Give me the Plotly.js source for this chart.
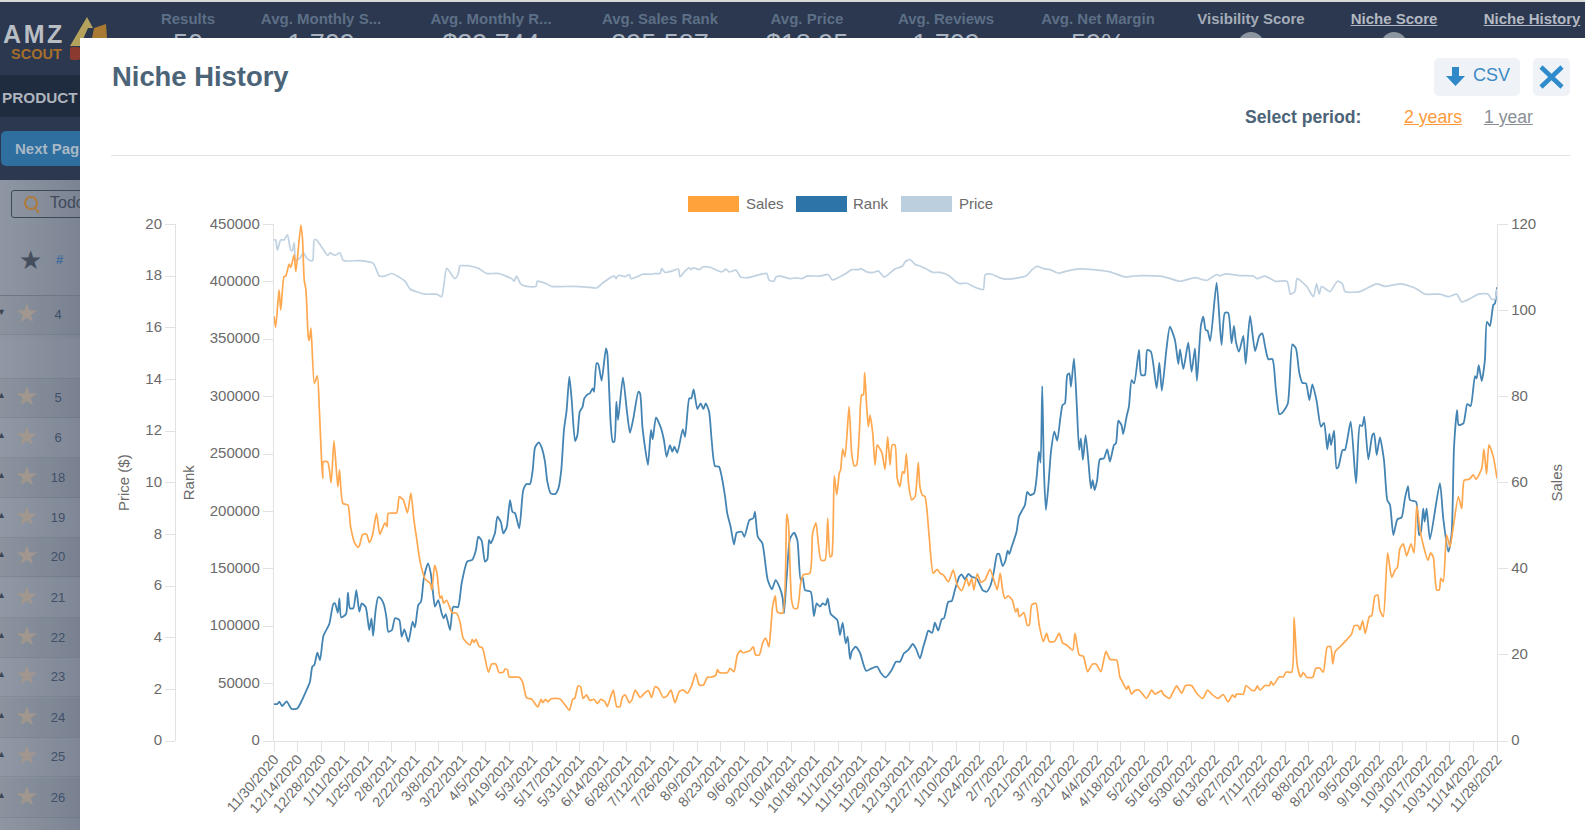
<!DOCTYPE html>
<html><head><meta charset="utf-8">
<script src="https://cdn.plot.ly/plotly-3.0.1.min.js"></script>
<style>
html,body{margin:0;padding:0;width:1585px;height:830px;overflow:hidden;background:#fff;font-family:"Liberation Sans",Arial,sans-serif}
.a{position:absolute;white-space:nowrap}
.h{top:10px;font-size:15px;font-weight:bold;color:#5d6f86;transform:translateX(-50%)}
.n{top:29px;font-size:27px;color:#a9b3c0;transform:translateX(-50%)}
.star{position:absolute;left:15px;font-size:26px;line-height:30px;color:#a1978e}
.num{position:absolute;left:58px;transform:translateX(-50%);font-size:13px;color:#3f4f68}
.tri{position:absolute;left:-3px;font-size:9px;color:#3c4656}
#chart{position:absolute;left:0;top:0;width:1585px;height:830px}
</style></head><body>
<div class="a" style="left:0;top:0;width:1585px;height:2px;background:#d8d8d8"></div>
<div class="a" style="left:0;top:2px;width:1585px;height:73px;background:#2b384f"></div>
<div class="a" style="left:0;top:75px;width:80px;height:42px;background:#1f2b3e"></div>
<div class="a" style="left:0;top:117px;width:80px;height:63px;background:#2b384f"></div>
<div class="a" style="left:0;top:180px;width:80px;height:650px;background:linear-gradient(90deg,#8f96a3,#7c8493)"></div>
<div class="a" style="left:3px;top:24px;font-size:25px;line-height:21px;font-weight:bold;letter-spacing:2.6px;color:#b9bdc4">AMZ</div>
<svg class="a" style="left:68px;top:14px" width="42" height="38"><polygon points="2,32 19,3 25,14 20,14 12,32" fill="#b5a25c"/><polygon points="26,14 38,10 39,24 24,24" fill="#a87a34"/></svg>
<div class="a" style="left:11px;top:48px;font-size:14.5px;line-height:12px;font-weight:bold;color:#a76f2b">SCOUT</div>
<div class="a" style="left:70px;top:47px;width:10px;height:13px;background:#8b3a30;border-radius:2px"></div>
<div class="a" style="left:2px;top:89px;font-size:15.3px;font-weight:bold;color:#aeb4bd">PRODUCT</div>
<div class="a" style="left:1px;top:131px;width:85px;height:35px;background:#2f6f9f;border-radius:5px"></div>
<div class="a" style="left:15px;top:140px;font-size:15px;font-weight:bold;color:#a8b8c6">Next Pag</div>
<div class="a" style="left:11px;top:190px;width:80px;height:26px;border:1px solid #3d4859;border-radius:3px"></div>
<svg class="a" style="left:23px;top:195px" width="18" height="20"><circle cx="8" cy="8" r="6" fill="none" stroke="#b07a3a" stroke-width="2"/><line x1="12" y1="13" x2="16" y2="18" stroke="#b07a3a" stroke-width="2"/></svg>
<div class="a" style="left:50px;top:194px;font-size:16px;color:#3f4a5b">Todo</div>
<div class="a" style="left:19px;top:245px;font-size:26px;color:#454e5c">★</div>
<div class="a" style="left:56px;top:252px;font-size:13px;font-weight:bold;color:#3e6a9c">#</div>
<div class="a" style="left:0;top:295px;width:80px;height:1px;background:#727a88"></div>
<div id="rows"></div>
<div class="a h" style="left:188px">Results</div><div class="a n" style="left:188px">50</div>
<div class="a h" style="left:321px">Avg. Monthly S...</div><div class="a n" style="left:321px">1,709</div>
<div class="a h" style="left:491px">Avg. Monthly R...</div><div class="a n" style="left:491px">$29,744</div>
<div class="a h" style="left:660px">Avg. Sales Rank</div><div class="a n" style="left:660px">395,587</div>
<div class="a h" style="left:807px">Avg. Price</div><div class="a n" style="left:807px">$18.95</div>
<div class="a h" style="left:946px">Avg. Reviews</div><div class="a n" style="left:946px">1,709</div>
<div class="a h" style="left:1098px">Avg. Net Margin</div><div class="a n" style="left:1098px">59%</div>
<div class="a h" style="left:1251px;color:#a4acb8">Visibility Score</div>
<div class="a" style="left:1238px;top:32px;width:26px;height:26px;border-radius:50%;background:#8d95a1"></div>
<div class="a h" style="left:1394px;color:#b3b9c2;text-decoration:underline">Niche Score</div>
<div class="a" style="left:1381px;top:32px;width:26px;height:26px;border-radius:50%;background:#8d95a1"></div>
<div class="a h" style="left:1532px;color:#b3b9c2;text-decoration:underline">Niche History</div>
<div class="a" style="left:80px;top:38px;width:1505px;height:792px;background:#fff"></div>
<div class="a" style="left:112px;top:61px;font-size:27.4px;font-weight:bold;color:#4b6478">Niche History</div>
<div class="a" style="left:111px;top:155px;width:1459px;height:1px;background:#dde3e9"></div>
<div class="a" style="left:1434px;top:58px;width:86px;height:38px;background:#eff3f8;border-radius:5px"></div>
<svg class="a" style="left:1445px;top:66px" width="22" height="22"><polygon points="7,1 14,1 14,10 20,10 10.5,20 1,10 7,10" fill="#2f88c8"/></svg>
<div class="a" style="left:1473px;top:65px;font-size:18px;color:#3b8ac4">CSV</div>
<div class="a" style="left:1533px;top:58px;width:37px;height:38px;background:#eff3f8;border-radius:5px"></div>
<svg class="a" style="left:1538px;top:64px" width="27" height="26"><path d="M3,3 L24,23 M24,3 L3,23" stroke="#2f8bcb" stroke-width="4.5" fill="none"/></svg>
<div class="a" style="left:1245px;top:107px;font-size:17.6px;font-weight:bold;color:#4b6478">Select period:</div>
<div class="a" style="left:1404px;top:107px;font-size:17.7px;color:#ff9a3c;text-decoration:underline">2 years</div>
<div class="a" style="left:1484px;top:107px;font-size:17.6px;color:#8a8f96;text-decoration:underline">1 year</div>
<div id="chart"></div>
<script>
const tickLabels=["11/30/2020","12/14/2020","12/28/2020","1/11/2021","1/25/2021","2/8/2021","2/22/2021","3/8/2021","3/22/2021","4/5/2021","4/19/2021","5/3/2021","5/17/2021","5/31/2021","6/14/2021","6/28/2021","7/12/2021","7/26/2021","8/9/2021","8/23/2021","9/6/2021","9/20/2021","10/4/2021","10/18/2021","11/1/2021","11/15/2021","11/29/2021","12/13/2021","12/27/2021","1/10/2022","1/24/2022","2/7/2022","2/21/2022","3/7/2022","3/21/2022","4/4/2022","4/18/2022","5/2/2022","5/16/2022","5/30/2022","6/13/2022","6/27/2022","7/11/2022","7/25/2022","8/8/2022","8/22/2022","9/5/2022","9/19/2022","10/3/2022","10/17/2022","10/31/2022","11/14/2022","11/28/2022"];
const salesDay=[0,1,3,4,6,7,9,10,12,13,16,17,18,19,20.4,21,22,24,25.8,27,28.4,29,29.4,32,34,35.7,38,39,41,44,45.6,48,50,51,52.6,55,56.8,58.7,61,63,66,67.3,68,73,74.6,77,79.4,81.5,83.3,85,87,90,93,94,95.6,97,98.8,99.8,101,102.8,106,108.7,110.7,112.7,116.7,118,119,120.2,122.2,124,127.6,129.6,132,134,136.5,137.5,139,140,146,148,150.4,153.4,157,159,160,161.7,163,165,170,173.8,175.8,177.8,179,181,182.5,184,186,188,190.5,192.5,194.5,197,198.4,200.4,202,204,206,207.3,209,211.5,213,215,218,220,222.8,224.8,226.8,228.8,231.8,234,236.3,238.7,241.3,243.7,246,248.6,251,253.2,255.6,258,260,263,264,265,270,271.4,273.8,275.8,277.8,279,283.3,285.3,286.7,288.9,290.9,292.7,294.6,295.8,296.8,298.4,299.6,302.8,305.2,306.2,308.1,309.5,311.5,313.5,315,319,320.6,322.6,324,325.6,328,329.6,331,332,333.5,335,336.5,337.3,338.5,339.9,342.3,343.9,345.4,346.8,348.4,349.8,350.8,351.6,352.8,353.8,354.8,356.4,357.8,359.1,361.1,362,363.7,365.3,366.7,368,369.6,371,372.6,374.2,375.2,376.4,377.8,379.6,381.6,383.5,384.5,386,387.5,390,392.4,394.8,396.4,398.4,401.4,404.3,406.7,409.3,412.3,413.7,415.3,416.6,418.6,420.8,423.2,426.2,428.5,430.5,432.3,433.7,435.1,437,439.5,441.4,442.6,443.6,446.4,448.4,449.6,451,453.5,455.5,457.9,459.9,461.5,464.5,467.4,469.4,471.8,475.4,476.8,479.3,481.7,484.3,487,489.3,492.2,495.2,497.6,501.6,503.5,505.5,507.5,508.5,510.5,512.5,515,519.4,522.4,524.4,528.3,529.3,533,535.7,537.3,540.3,542.6,546.2,549.2,552.8,555.7,558.1,562,565,568,570.6,572,573,577,578.6,582,584,585.3,587,589.9,592.5,593.5,594.8,598.4,600.8,602.4,605.8,607.2,609.1,611.1,612.7,614.7,618.3,620.2,622.6,624.6,627,629,630.2,631.6,634.5,638.5,641.5,643.1,645.4,646.4,648,649.6,652,653.4,655.4,657,658.3,660.3,662.9,665.3,667.3,668.7,670.2,672.2,674.2,676.8,678.6,680.2,682.2,684.1,686.9,688.5,690.1,692.1,693.7,694.5,696,698,700,702,705,707,708.5,711.5,713.9,715.5,718.9,720.2,721.8,723.2,725.8,728];
const salesVal=[98.7,96.1,104.8,100.1,107.9,108,110.8,110,112.9,109,119.9,116.4,107,104.8,93.9,93,95.9,83.1,84.8,76.9,64.5,61,64.9,64.8,60,69.7,59,63,55.2,54.8,49.8,46,45,45.5,47.9,48.1,46.1,47.9,52.9,48,50.7,49.8,52.9,53,56.7,56,53,57.6,51.3,46.8,41.6,37.6,36.6,35,40.8,39,33.1,33.7,32,32.7,29.8,29.7,27.7,23.8,22.3,23.6,22.9,23.6,21.9,21.7,16,17.9,17.9,15.9,16,16.7,16.5,14.9,14.8,13.7,10,9.7,7.9,9.7,8.9,9.7,9.1,9.8,9.8,8.1,7.1,9.7,9.9,12.8,12.6,9.9,10.7,9.4,9.7,8.7,9.7,9.1,8,10.3,11.8,8,8,10.1,10.7,8.9,9.5,11.8,10.1,10.9,11.7,10.1,12.6,12.2,10.1,10.5,11.8,8.9,11.5,11.8,11.1,12.8,15.7,13,13,14.8,14.8,15.3,16.6,15.9,15.9,16.9,16.1,20,21,20.5,21,21.9,20,20,22.8,23.9,21.9,26.6,31.2,33.7,30,29.7,52.7,50.6,32.7,30.8,30.8,36.6,38.6,39,48.2,50.7,45.9,42,42,51.7,42.8,43,61.6,57.2,62.2,63,67.8,66,77.7,66.8,63.9,64.1,71.5,80.4,80.4,85.6,77.7,73,75.7,71.5,64.1,68.8,67.6,66.8,63.1,70.7,64.1,68.8,68.8,61,59.1,62.6,62.2,66.7,59.5,56,56.8,64.7,59.1,57.1,56.8,47.5,39,39.9,39,38.6,37,39.7,36.2,34.9,37.8,36,37.8,35.1,38.8,36.9,37.4,39.9,37.4,35.1,39,35.1,33.1,33.7,32.7,30,30.8,28.9,29.8,26.9,26.9,31.6,32,26.9,23.1,25,23.1,23.1,25,22.8,22.3,21.1,25,20,19.7,16.1,17.8,17.9,16.1,20.8,19,18.8,14.9,13.4,12,12.8,10.9,11.7,11.8,9.9,11.8,10.9,11.7,10.9,9.9,11.8,12.8,11.1,12.9,12.9,11.1,9.9,11.8,10.9,9.9,10.8,9.1,10.7,10.1,10.9,10.9,12.9,11.8,11.8,12.8,11.8,12.9,12.9,13.8,13,14.9,14.9,16,16,28.7,17.6,14.9,15.9,14.8,14.8,16.9,16.9,16,21.9,21.9,17.9,20.7,21.9,23.5,24.9,26.8,26.8,25.8,27.9,25,28.9,29.1,33.7,33.9,30.4,28.9,43.7,38,39.7,40.3,44.7,45.8,43,45.8,43.7,54.6,49,45.5,42,43.7,42.7,35.1,35.1,37.8,37,47.9,45.1,49.8,56.8,54,60.6,60.8,61.8,60.8,63.3,67.8,62,68.8,66,61];
const rankDay=[0,2,3.2,4.8,7.5,10.5,13.9,16.5,18.5,21.4,22.8,24,25.8,27.4,29.4,32.9,35.3,36.3,38,38.9,40,42.9,44,45.2,47.2,49,50.8,52.2,54.6,56.7,58,59,60.5,62,63.5,65.5,67,68,70.2,72,74.6,76,77.6,80,82.5,83.9,85.9,87.5,88.9,90,91.7,93.3,94.4,95.8,97.8,99.8,101,102.2,104.8,106.3,107,109.5,111.7,115,118,120.2,121.6,123.6,125.6,127,128,129,131.5,133,135,136.5,138.5,140.5,141.9,143.5,146,148.4,150.4,152.4,154,155.4,157.6,159.3,161.3,162.7,164.7,167.3,169.3,171,172.6,174.2,175.8,177.2,179.2,180.6,182,183.7,184.7,187,188,189.7,190.5,192,193,195,197.6,198.4,200.4,201.6,202.6,203.8,204.8,207.7,210,211.9,213.9,216.9,217.9,219.3,220.8,222.6,224.4,225.4,227.4,230.2,232.1,233.7,235.7,237.1,238.3,240.1,243.3,244.7,247.2,248.4,249.8,252,254,255.6,257,259,260.5,262.5,264.9,266.5,268.5,269.8,271.8,273.8,275.4,278.4,280,283,285.3,286.3,288,290.7,292.7,293.9,296.4,298.6,301.2,302.8,303.6,305.2,307.2,309.5,311.5,313.5,314.7,316.1,319.5,321.4,323,325,326.6,328.4,329.6,331.4,335.3,336.9,338.5,340.3,341.5,342.9,343.9,346.2,348.8,352.4,355.8,359.1,361.1,364.1,367.7,370.2,372.6,375,377.6,380.2,382.1,384.5,386.5,388,389.5,391.8,393.4,395.4,397.4,398.8,401.4,403.4,405.3,407.9,409.3,411.3,413.3,415.3,418.2,421.8,424.2,426.6,428.5,430.5,431.7,433.7,435.5,436.7,437.7,439,442,443.4,445.2,447,448.4,450,452.4,454,455.3,456.3,457.3,458.3,459.5,460.9,462.5,464.5,466.2,468.2,469.4,470.8,472.2,473.4,474.4,476.2,477.8,479.3,480.3,481.5,483.1,484.7,486.3,487.3,488.5,490,491.6,494,496,497.6,500,501.2,502.6,504.5,505.5,507.5,508.9,510.5,512,514.9,516.2,518.4,519.8,522,525.4,527,528.5,531.3,533.3,536.3,538.3,539.3,541.3,544.2,546.2,548.2,549.4,551.8,553.2,554.6,555.7,557.3,561.1,564,566,568,570,571.4,572.6,574.4,577,578.4,581,584,586.5,588.3,589.9,591.9,594.3,596.4,598.4,599.8,603.4,606.2,608.3,610.3,612.1,614.3,616.3,618.1,620.6,623.2,625,627,628.2,629.2,631,632.5,633.5,636.1,637.5,640.9,644.1,646.4,647.8,649,651.4,653.8,654.8,656.4,658.3,660.7,662.7,664.3,666.3,668.7,671.2,673.2,675,676.2,679.8,681.6,682.7,684.1,684.9,686.1,688.1,694,696,699,701,702.4,704.2,705.2,708,710.3,712.3,714.9,715.9,717.1,718.9,720.8,722,723.8,725.8,726.8,728];
const rankVal=[32200,32200,34300,30500,34500,27900,28400,35100,41500,51700,64700,66200,76900,70500,91500,101900,119300,119900,111700,124300,107700,110600,129200,115600,115600,131500,112600,119900,116500,96700,106900,91500,114100,125200,124300,118500,106900,95200,96700,106900,105400,90800,97300,86500,103900,99000,118500,121300,138800,147500,154800,146100,133000,117000,122800,111200,106900,110600,96700,115600,117000,116500,137400,156200,157700,166400,178000,174500,156200,158300,175100,172200,180900,195400,191000,180900,186100,209900,199700,198300,185300,218600,223800,223800,236000,255800,260200,255800,243300,225900,215700,215100,220100,236000,270900,288300,317300,297000,261300,266500,286800,291200,298500,302200,302800,307200,304200,329000,328400,313800,342000,337700,276700,260700,260700,295500,279600,316800,288300,268500,281100,304200,302800,273800,256300,240400,270900,262800,281900,273200,262200,247600,257800,252000,256300,251100,271500,265000,298500,298500,306300,289200,294100,289200,294100,286800,262200,239500,238900,230200,212800,198300,186700,171300,181400,182300,177900,192500,194000,199700,177900,172200,151800,140200,132100,140200,133000,124300,111200,143100,176500,181400,175100,140200,142600,131500,130000,108900,119900,117000,119900,118500,124300,110600,105400,92300,103000,85100,90800,71400,77800,82100,76900,61200,63300,64700,59500,55500,61800,69100,69100,76400,79300,84500,80700,72000,82100,89400,96100,94300,103000,96100,106000,106900,121300,121900,131500,143100,145200,140800,145500,143100,141700,131500,130000,135900,147500,162900,162900,152400,157700,165800,162900,168700,182300,195400,200600,205600,217100,214300,215700,230200,252000,242400,309200,236000,201200,221500,252000,269400,261600,282500,292700,294100,318800,320300,308600,333300,294100,253500,263600,244800,266500,244800,220100,227300,218600,227300,245400,246200,254100,243300,257800,259300,279000,275200,267400,282500,291200,314400,311500,340600,318800,318800,340600,339100,307200,329500,305100,342000,360900,349300,328400,341200,324000,346900,321600,342000,313800,362300,369600,358000,357400,348400,399200,344900,373000,373000,346400,361500,347800,339100,352800,328400,370200,339700,352800,355100,344000,332500,332700,305700,284800,285400,293500,345500,342000,320800,312100,311500,297000,310700,296400,273800,277200,254100,267400,257800,270300,237500,238400,253500,253500,278100,224500,275200,274400,282500,245400,266500,268000,249100,264500,244800,209900,205600,179400,193100,194800,211400,222100,209900,208400,179400,182300,202700,191000,202700,175700,224500,194000,164900,180900,255500,288300,275200,276700,293500,291800,317900,315900,327500,313600,331900,365200,361500,379800,381200,395200];
const priceDay=[0,1,2,4,6,8,10,11,12,13,15.5,17.5,19.4,21.4,23,24,25.4,32,33.3,36.3,39.3,41.3,51,59,62.7,66,70,78,81,90,96.8,99.8,101,102.8,107.7,109.7,110.7,113.7,115.7,121.6,126.6,133.6,141.5,143,144.4,146.8,150.4,155.9,156.7,162.2,165.2,178,188,192,196,202.4,203.6,205,209,211.5,212.5,215.9,219.4,224.8,226.8,229.8,230.8,232.8,236.7,240.7,241.7,244.6,247,248.2,249.6,253.2,255.6,259.5,266.5,269,271,275,277.8,282.3,293.3,294.6,297.6,298.8,301.2,307.2,311.1,314.1,317.1,325,330,332.3,339.9,343.9,347.8,349.4,352.8,356.8,359.7,363.3,369.6,374.2,375.6,378.6,381.6,384.5,388.5,392.4,396.4,401.4,405.9,408.3,412.3,418.2,422.2,423.4,427.2,432.1,436.1,442,447.6,451,454,455.9,457.9,461.9,466.8,471.8,477.8,487.7,497.6,506.5,511.5,516.5,529.3,539.3,548.2,555.1,561.1,563,566,574.9,583,585,590,596,603,605,607.7,609,614.7,618.7,620.6,622.2,623.6,628.6,633,636,637.5,646.4,656.4,661.3,671.2,680.2,685.1,694,699,704,707,714,716.9,722.8,724.8,726.8,728];
const priceVal=[19.4,19.4,19,19.4,19.4,19.6,19,19,19.3,18.6,18.7,18.9,18.7,18.6,18.6,19.4,19.4,18.8,18.9,18.8,18.9,18.6,18.6,18.5,18,18,18.1,17.8,17.5,17.3,17.3,17.2,17.6,18.3,17.9,18.1,18.4,18.4,18.4,18.3,18.1,18.1,17.9,17.8,18,17.7,17.6,17.6,17.8,17.7,17.6,17.6,17.56,17.54,17.75,18.01,17.9,18.03,17.98,18.06,17.9,17.97,18.07,18.07,18.1,18.1,18.29,18.14,18.19,18.27,17.97,18.19,18.32,18.25,18.32,18.25,18.36,18.34,18.16,18.27,18.16,18.23,17.96,17.94,18.1,17.85,17.8,17.97,18,17.9,17.93,17.9,18,18,18.06,17.85,18.08,18.25,18.25,18.29,18.16,18.14,18.2,17.96,18.27,18.39,18.55,18.64,18.45,18.39,18.27,18.14,18.14,18.03,17.78,17.71,17.72,17.54,17.48,18.06,18.07,17.93,17.88,17.92,18,18.23,18.37,18.35,18.29,18.25,18.11,18.19,18.27,18.25,18.16,17.97,18,18.02,17.98,17.8,17.94,17.83,18.06,18.01,18.08,18.02,18,17.9,18,17.8,17.8,17.3,17.4,17.9,17.6,17.2,17.7,17.3,17.6,17.4,17.8,17.7,17.4,17.4,17.7,17.6,17.7,17.5,17.3,17.3,17.2,17.3,17,17.2,17.3,17.3,17.1,17.1,17.5];
const legendNames=["Sales","Rank","Price"];
const legendColors=["#ffa239","#2d75a8","#bbcfdf"];
const rowNumbers=["4","","5","6","18","19","20","21","22","23","24","25","26"];
const rowTops=[314,358,397,437,477,517,556,597,637,676,717,756,797];

const rowsEl=document.getElementById('rows');
rowNumbers.forEach((n,i)=>{
  const t=rowTops[i], shade=i%2?'rgba(255,255,255,.025)':'rgba(0,0,0,.02)';
  rowsEl.insertAdjacentHTML('beforeend',`<div class="a" style="left:0;top:${t-19}px;width:80px;height:39px;background:${shade};border-bottom:1px solid rgba(60,70,85,.12)"></div>`);
  if(!n) return;
  rowsEl.insertAdjacentHTML('beforeend',`<div class="tri" style="top:${t-7}px">${i===0?'▼':'▲'}</div><div class="star" style="top:${t-16}px">★</div><div class="num" style="top:${t-7}px">${n}</div>`);
});
const D0=Date.UTC(2020,10,30);
const toDate=d=>new Date(D0+d*86400000).toISOString().slice(0,19).replace('T',' ');
const tickVals=tickLabels.map(s=>{const p=s.split('/');return toDate((Date.UTC(+p[2],+p[0]-1,+p[1])-D0)/86400000)});
const W=1585,H=830,L=274,R=1497,T=224.4,B=741;
const tfont={family:'"Liberation Sans",Arial,sans-serif',size:15,color:'#6b6b6b'};
const xfont={family:tfont.family,size:14.3,color:'#6b6b6b'};
const line='#e2e2e2';
const yCommon={showgrid:false,zeroline:false,showline:true,linecolor:line,linewidth:1.2,ticks:'outside',ticklen:10,tickcolor:line,tickfont:tfont,tickformat:'d',ticklabelshift:-1,domain:[1-B/H,1-T/H]};
const tr=(x,y,name,color,ya,w)=>({x:x.map(toDate),y,name,yaxis:ya,type:'scatter',mode:'lines',line:{color,width:w,shape:'spline',smoothing:0.6},hoverinfo:'x+y+name'});
const traces=[tr(salesDay,salesVal,'Sales','#ffa84f','y3',1.7),tr(rankDay,rankVal,'Rank','#4484b3','y',1.8),tr(priceDay,priceVal,'Price','#c0d2e1','y2',1.7)];
const tfT={family:tfont.family,size:15,color:'#6b6b6b'};
const shapes=[],anns=[];
const lx=[688,796,901],tx=[744,851,957];
legendNames.forEach((n,i)=>{
  shapes.push({type:'rect',xref:'paper',yref:'paper',x0:lx[i]/W,x1:(lx[i]+51)/W,y0:1-212/H,y1:1-196/H,fillcolor:legendColors[i],line:{width:0}});
  anns.push({xref:'paper',yref:'paper',x:tx[i]/W,y:1-203/H,xanchor:'left',yanchor:'middle',showarrow:false,text:n,font:{family:tfont.family,size:15,color:'#6b6b6b'}});
});
Plotly.newPlot('chart',traces,{
  width:W,height:H,margin:{l:0,r:0,t:0,b:0},paper_bgcolor:'rgba(0,0,0,0)',plot_bgcolor:'rgba(0,0,0,0)',showlegend:false,
  xaxis:{type:'date',domain:[L/W,R/W],range:[toDate(0),toDate(728)],tickmode:'array',tickvals:tickVals,ticktext:tickLabels,tickangle:-49,tickfont:xfont,ticklabelstandoff:-7,showgrid:false,zeroline:false,showline:true,linecolor:line,linewidth:1.2,ticks:'outside',ticklen:10,tickcolor:line},
  yaxis:Object.assign({},yCommon,{range:[0,450000],dtick:50000,title:{text:'Rank',font:tfT,standoff:11}}),
  yaxis2:Object.assign({},yCommon,{range:[0,20],dtick:2,overlaying:'y',anchor:'free',position:175/W,side:'left',title:{text:'Price ($)',font:tfT,standoff:10}}),
  yaxis3:Object.assign({},yCommon,{range:[0,120],dtick:20,overlaying:'y',anchor:'x',side:'right',title:{text:'Sales',font:tfT,standoff:16}}),
  shapes,annotations:anns
},{displayModeBar:false,staticPlot:true});
</script>
</body></html>
